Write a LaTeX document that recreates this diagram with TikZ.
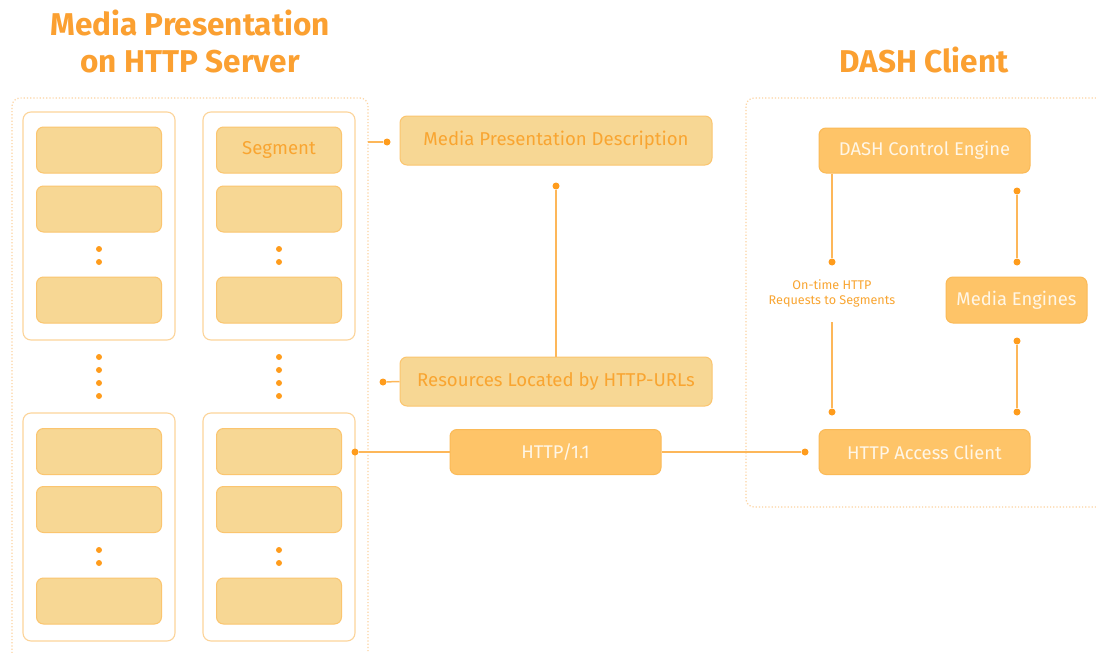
\documentclass[tikz,border=0pt]{standalone}
\usepackage{fontspec}
\setmainfont{Fira Sans}
\begin{document}
\begin{tikzpicture}[x=1pt,y=-1pt,
  titletxt/.style={text=titleor,font=\bfseries\fontsize{31.5}{37}\selectfont,align=center},
  grp/.style={draw=grpbd,line width=1.1pt,rounded corners=8pt,fill=white},
  seg/.style={draw=lightbd,line width=1pt,fill=lightfill,rounded corners=7pt,minimum width=125pt,minimum height=46pt,inner sep=0pt},
  lbox/.style={draw=lightbd,line width=1pt,fill=lightfill,rounded corners=7pt,text=lighttxt,font=\fontsize{18.6}{22}\selectfont,inner sep=0pt},
  dbox/.style={draw=darkbd,line width=1pt,fill=darkfill,rounded corners=7pt,text=darktxt,font=\fontsize{18.4}{22}\selectfont,inner sep=0pt},
  dot/.style={circle,fill=dotc,inner sep=0pt,minimum size=7pt},
  conn/.style={draw=linec,line width=1.5pt},
  cont/.style={draw=contc,line width=1.2pt,dotted,rounded corners=8pt},
]
\definecolor{titleor}{HTML}{FBA031}
\definecolor{lightfill}{HTML}{F7D794}
\definecolor{lightbd}{HTML}{FBC56F}
\definecolor{lighttxt}{HTML}{F9A531}
\definecolor{darkfill}{HTML}{FEC468}
\definecolor{darkbd}{HTML}{FBBA57}
\definecolor{darktxt}{HTML}{FFF6E6}
\definecolor{grpbd}{HTML}{FCD49A}
\definecolor{linec}{HTML}{FDB759}
\definecolor{dotc}{HTML}{FF9C1C}
\definecolor{contc}{HTML}{FDD3A0}

\useasboundingbox[fill=white] (0,0) rectangle (1096,653);

% titles
\node[titletxt] (t1) at (190,41) {Media Presentation\\on HTTP Server};
\node[titletxt] (t2) at (924,60) {DASH Client};

% dotted containers
\draw[cont] (12,653) -- (12,98) -- (368,98) -- (368,653);
\draw[cont] (1096,98) -- (746,98) -- (746,507) -- (1096,507);
\coordinate (lcR1) at (368,142);

% groups
\foreach \gx/\gy/\nm in {99/226/gul, 279/226/gur, 99/527/gll, 279/527/glr}{
  \node[grp,minimum width=152pt,minimum height=228pt,inner sep=0pt] (\nm) at (\gx,\gy) {};
}
% segments
\foreach \gx/\p in {99/a, 279/b}{
  \node[seg] (\p1) at (\gx,150) {};
  \node[seg] (\p2) at (\gx,209) {};
  \node[seg] (\p3) at (\gx,300) {};
  \node[seg] (\p4) at (\gx,451.5) {};
  \node[seg] (\p5) at (\gx,509.5) {};
  \node[seg] (\p6) at (\gx,601) {};
  \foreach \dy [count=\i] in {249,262,550,563,357,370,383,396}{
    \node[dot,minimum size=6pt] (\p d\i) at (\gx,\dy) {};
  }
}
\node[text=lighttxt,font=\fontsize{18.6}{22}\selectfont] (segtxt) at (b1) {Segment};

% middle column
\node[lbox,minimum width=312pt,minimum height=49pt] (mpd) at (556,140.5) {Media Presentation Description};
\node[lbox,minimum width=312pt,minimum height=49pt] (res) at (556,381.5) {Resources Located by HTTP-URLs};
\node[dbox,minimum width=211pt,minimum height=45pt] (http) at (555.5,452) {HTTP/1.1};

\node[dot] (dm1) at (387,142) {};
\node[dot] (dm2) at (556,186) {};
\node[dot] (dm3) at (383,382) {};
\node[dot] (dm4) at (355,452) {};

\draw[conn] (lcR1) -- (dm1);
\draw[conn] (dm2) -- (res.north);
\draw[conn] (dm3) -- (res.west);
\draw[conn] (dm4) -- (http.west);

% DASH client
\node[dbox,minimum width=211pt,minimum height=45pt] (dce) at (924.5,150.5) {DASH Control Engine};
\node[dbox,minimum width=141pt,minimum height=46pt] (me) at (1016.5,300) {Media Engines};
\node[dbox,minimum width=211pt,minimum height=45pt] (hac) at (924.5,452) {HTTP Access Client};

\node[dot] (dc1) at (832,262) {};
\node[dot] (dc2) at (832,412) {};
\node[dot] (dc3) at (1017,191) {};
\node[dot] (dc4) at (1017,262) {};
\node[dot] (dc5) at (1017,341) {};
\node[dot] (dc6) at (1017,412) {};
\node[dot] (dc7) at (805,452) {};

\node[text=lighttxt,font=\fontsize{12.6}{15.5}\selectfont,align=center] (req) at (832,293.5) {On-time HTTP\\Requests to Segments};
\coordinate (reqb) at (832,322);

\draw[conn] (dce.south -| dc1) -- (dc1);
\draw[conn] (reqb) -- (dc2);
\draw[conn] (dc3) -- (dc4);
\draw[conn] (dc5) -- (dc6);
\draw[conn] (http.east) -- (dc7);
\end{tikzpicture}
\end{document}
